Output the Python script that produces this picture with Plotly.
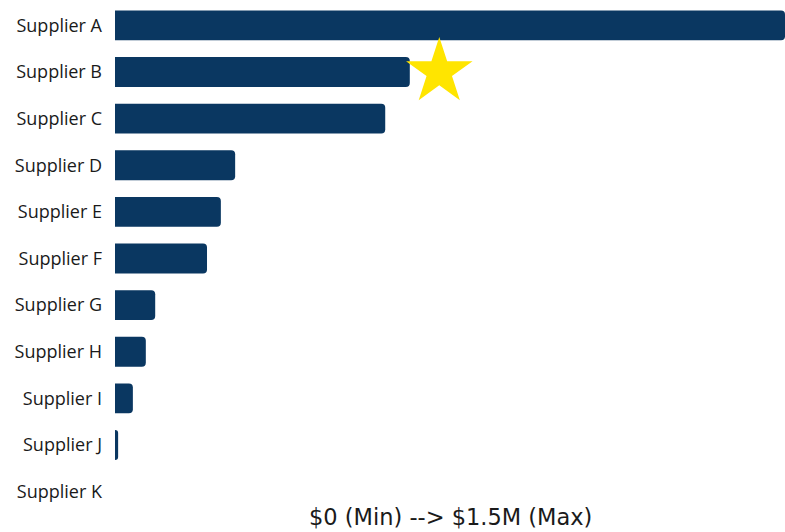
import plotly.graph_objects as go

suppliers = ["Supplier A", "Supplier B", "Supplier C", "Supplier D", "Supplier E",
             "Supplier F", "Supplier G", "Supplier H", "Supplier I", "Supplier J", "Supplier K"]
spend_m = [1.50, 0.660, 0.605, 0.269, 0.237, 0.206, 0.090, 0.069, 0.040, 0.007, 0.0]
x_max = 1.5
highlight = "Supplier B"
axis_title = "$0 (Min) --> $1.5M (Max)"

bar_color = "#0a3761"
star_color = "#ffe500"

fig = go.Figure()
fig.add_trace(go.Bar(
    x=spend_m, y=suppliers, orientation="h",
    marker=dict(color=bar_color, line=dict(width=0)),
    hoverinfo="x+y",
))

hv = spend_m[suppliers.index(highlight)]
fig.add_trace(go.Scatter(
    x=[hv * 1.1], y=[highlight], mode="markers",
    marker=dict(symbol="star", size=50, color=star_color, line=dict(width=0)),
    hoverinfo="skip",
))

fig.update_layout(
    width=785, height=532,
    margin=dict(l=115, r=0, t=2, b=17, autoexpand=False),
    paper_bgcolor="white", plot_bgcolor="white",
    showlegend=False,
    bargap=0.36,
    barcornerradius=4,
    font=dict(family="Open Sans", color="#1a1a1a"),
    xaxis=dict(range=[0, x_max], showgrid=False, zeroline=False,
               showticklabels=False, showline=False, fixedrange=True),
    yaxis=dict(categoryorder="array", categoryarray=suppliers, autorange="reversed",
               showgrid=False, zeroline=False, showline=False,
               tickfont=dict(size=18, family="Open Sans", color="#1a1a1a"),
               ticklabelstandoff=12),
    annotations=[dict(
        text=axis_title, x=0.5, y=0, xref="paper", yref="paper",
        xanchor="center", yanchor="middle", yshift=-2, showarrow=False,
        font=dict(size=22.5, family="DejaVu Sans", color="#1a1a1a"),
    )],
)

fig.write_html("out.html", config={"displayModeBar": False},
               post_script="document.body.style.margin='0';document.body.style.padding='0';")
